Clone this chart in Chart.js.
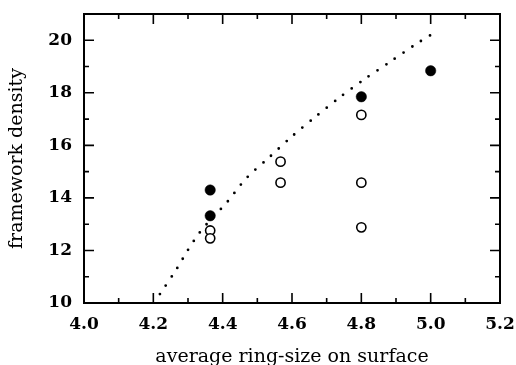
<!DOCTYPE html>
<html lang="en">
<head>
  <meta charset="UTF-8" />
  <title>framework density vs ring size</title>
  <script src="https://cdn.jsdelivr.net/npm/chart.js"></script>
  <style>
    html, body { margin: 0; padding: 0; background: #fff; }
    #wrap { width: 516px; height: 365px; }
  </style>
</head>
<body>
  <div id="wrap"><canvas id="chart" width="516" height="365"></canvas></div>

  <script>
    // filled circles
    const filledX = [4.364, 4.364, 4.8, 5.0];
    const filledY = [14.3, 13.32, 17.85, 18.84];

    // open circles
    const openX = [4.364, 4.364, 4.567, 4.567, 4.8, 4.8, 4.8];
    const openY = [12.76, 12.46, 15.38, 14.58, 17.16, 14.58, 12.88];

    // dotted curve
    const curveX = [4.219, 4.267, 4.299, 4.333, 4.372, 4.411, 4.469, 4.534, 4.599, 4.667, 4.736, 4.808, 4.882, 4.956, 5.0];
    const curveY = [10.34, 11.29, 12.0, 12.67, 13.27, 13.81, 14.76, 15.54, 16.33, 17.08, 17.81, 18.51, 19.17, 19.84, 20.2];

    const xTicks = [4.0, 4.2, 4.4, 4.6, 4.8, 5.0, 5.2];
    const xMinor = [4.1, 4.3, 4.5, 4.7, 4.9, 5.1];
    const yTicks = [10, 12, 14, 16, 18, 20];
    const yMinor = [11, 13, 15, 17, 19];

    const pts = (xs, ys) => xs.map((x, i) => ({ x: x, y: ys[i] }));
    const serif = 'DejaVu Serif';

    // box + inward ticks on all four sides
    const framePlugin = {
      id: 'frame',
      beforeDatasetsDraw(chart) {
        const { ctx, chartArea: a, scales: { x, y } } = chart;
        ctx.save();
        ctx.strokeStyle = '#000';
        ctx.lineWidth = 1.6;
        const tick = (vals, len) => {
          vals.forEach(v => {
            const px = x.getPixelForValue(v);
            ctx.beginPath();
            ctx.moveTo(px, a.bottom); ctx.lineTo(px, a.bottom - len);
            ctx.moveTo(px, a.top); ctx.lineTo(px, a.top + len);
            ctx.stroke();
          });
        };
        const tickY = (vals, len) => {
          vals.forEach(v => {
            const py = y.getPixelForValue(v);
            ctx.beginPath();
            ctx.moveTo(a.left, py); ctx.lineTo(a.left + len, py);
            ctx.moveTo(a.right, py); ctx.lineTo(a.right - len, py);
            ctx.stroke();
          });
        };
        tick(xTicks, 10); tick(xMinor, 5);
        tickY(yTicks, 10); tickY(yMinor, 5);
        ctx.lineWidth = 2;
        ctx.strokeRect(a.left, a.top, a.right - a.left, a.bottom - a.top);
        ctx.restore();
      }
    };

    new Chart(document.getElementById('chart'), {
      type: 'scatter',
      data: {
        datasets: [
          {
            label: 'curve',
            type: 'line',
            data: pts(curveX, curveY),
            borderColor: '#000',
            borderWidth: 2.8,
            borderDash: [0, 10.5],
            borderCapStyle: 'round',
            pointRadius: 0,
            fill: false,
            tension: 0.3
          },
          {
            label: 'open',
            data: pts(openX, openY),
            pointRadius: 4.6,
            pointBackgroundColor: '#fff',
            pointBorderColor: '#000',
            pointBorderWidth: 1.6
          },
          {
            label: 'filled',
            data: pts(filledX, filledY),
            pointRadius: 5.2,
            pointBackgroundColor: '#000',
            pointBorderColor: '#000',
            pointBorderWidth: 0.5
          }
        ]
      },
      options: {
        responsive: false,
        animation: false,
        layout: { padding: { top: 14, right: 16, bottom: 0, left: 0 } },
        plugins: { legend: { display: false }, tooltip: { enabled: false } },
        scales: {
          x: {
            type: 'linear',
            min: 4.0,
            max: 5.2,
            afterBuildTicks: s => { s.ticks = xTicks.map(v => ({ value: v })); },
            afterFit: s => { s.height = 62; s.paddingLeft = 0; s.paddingRight = 0; },
            grid: { display: false, drawTicks: false },
            border: { display: false },
            ticks: {
              padding: 11,
              color: '#000',
              font: { family: serif, size: 17, weight: 'bold' },
              callback: v => Number(v).toFixed(1)
            },
            title: {
              display: true,
              text: 'average ring-size on surface',
              color: '#000',
              font: { family: serif, size: 19, lineHeight: 1 },
              padding: { top: 0, bottom: -2 }
            }
          },
          y: {
            type: 'linear',
            min: 10,
            max: 21,
            afterBuildTicks: s => { s.ticks = yTicks.map(v => ({ value: v })); },
            afterFit: s => { s.width = 84; s.paddingTop = 0; s.paddingBottom = 0; },
            grid: { display: false, drawTicks: false },
            border: { display: false },
            ticks: {
              padding: 12,
              color: '#000',
              font: { family: serif, size: 17, weight: 'bold' }
            },
            title: {
              display: true,
              text: 'framework density',
              color: '#000',
              font: { family: serif, size: 19, lineHeight: 1.2 },
              padding: { top: 6, bottom: 0 }
            }
          }
        }
      },
      plugins: [framePlugin]
    });
  </script>
</body>
</html>
